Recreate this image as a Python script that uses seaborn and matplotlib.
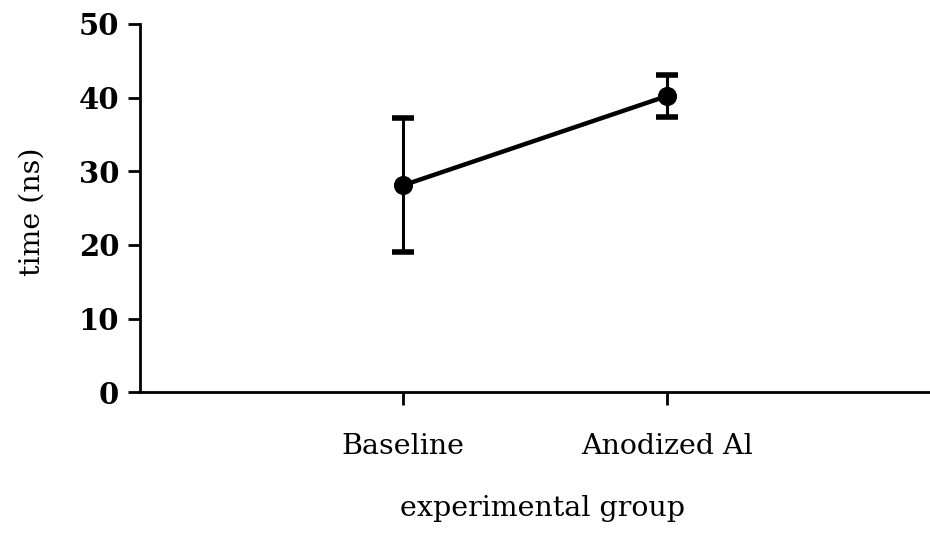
import matplotlib
matplotlib.use("Agg")
import matplotlib.pyplot as plt
import seaborn as sns
import pandas as pd

# Group means and error half-widths (ns)
groups = ["Baseline", "Anodized Al"]
means = [28.1, 40.2]
errors = [9.1, 2.8]
y_ticks = [0, 10, 20, 30, 40, 50]

positions = [1, 2]
df = pd.DataFrame({"pos": positions, "time": means, "group": groups})

sns.set_theme(style="ticks")
plt.rcParams["font.family"] = ["DejaVu Serif"]

fig = plt.figure(figsize=(9.3, 5.44), dpi=100)
ax = fig.add_axes([0.1505, 0.279, 0.8495, 0.677])

ax.errorbar(df["pos"], df["time"], yerr=errors, fmt="none", ecolor="black",
            elinewidth=2.2, capsize=8, capthick=4, zorder=2)
sns.lineplot(data=df, x="pos", y="time", ax=ax, color="black", linewidth=3.2,
             marker="o", markersize=13, markeredgecolor="black", zorder=3)

ax.set_xlim(0, 3)
ax.set_ylim(0, 50)
ax.set_xticks(positions)
ax.set_xticklabels(groups, fontsize=20.5, color="black")
ax.set_yticks(y_ticks)
ax.set_yticklabels([str(t) for t in y_ticks], fontsize=21, fontweight="bold",
                   color="black")

for side in ("top", "right"):
    ax.spines[side].set_visible(False)
for side in ("left", "bottom"):
    ax.spines[side].set_linewidth(2)
    ax.spines[side].set_color("black")

ax.tick_params(axis="both", direction="out", length=9, width=2, colors="black")
ax.tick_params(axis="x", pad=20)
ax.tick_params(axis="y", pad=6)

ax.set_xlabel("experimental group", fontsize=20.5, color="black")
ax.set_ylabel("time (ns)", fontsize=20.5, color="black")
ax.yaxis.set_label_coords(-0.12, 0.49)
ax.xaxis.set_label_coords(0.51, -0.28)

fig.savefig("out.png", dpi=100)
